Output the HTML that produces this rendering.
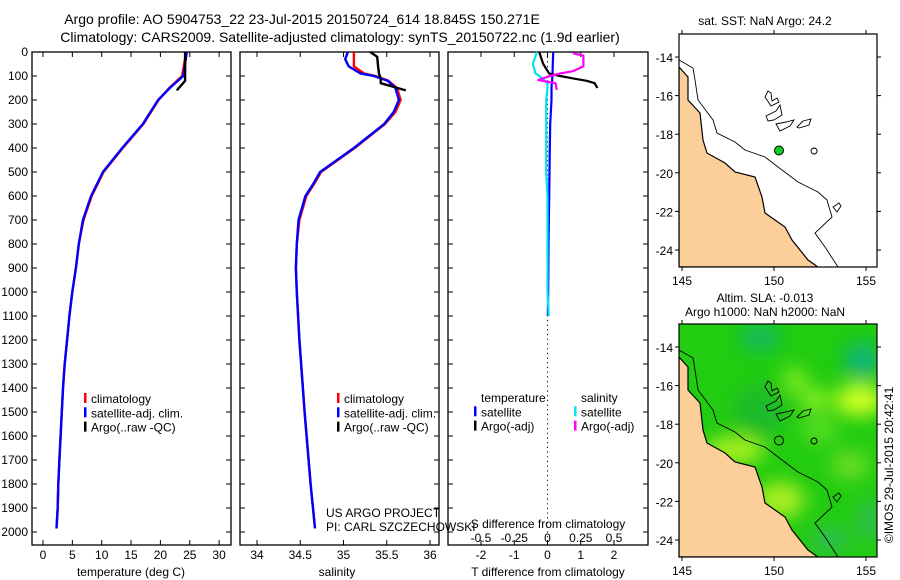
<!DOCTYPE html>
<html><head><meta charset="utf-8">
<style>
html,body{margin:0;padding:0;background:#fff;}
svg{display:block;font-family:"Liberation Sans",sans-serif;}
text{font-size:12px;fill:#000;}
</style></head>
<body>
<svg id="chart" width="900" height="580" viewBox="0 0 900 580" xmlns="http://www.w3.org/2000/svg">
<defs>
<clipPath id="mapclip1"><rect x="679" y="34" width="198" height="233"/></clipPath>
<clipPath id="mapclip2"><rect x="679" y="324" width="198" height="233"/></clipPath>
<filter id="blur" x="-50%" y="-50%" width="200%" height="200%"><feGaussianBlur stdDeviation="9"/></filter>
</defs>
<text x="302" y="24" text-anchor="middle" style="font-size:14px">Argo profile: AO 5904753_22 23-Jul-2015 20150724_614 18.845S 150.271E</text>
<text x="340" y="42" text-anchor="middle" style="font-size:14px">Climatology: CARS2009. Satellite-adjusted climatology: synTS_20150722.nc (1.9d earlier)</text>
<g id="plots"></g>
<g id="maps"></g>
<text transform="translate(893,465) rotate(-90)" text-anchor="middle">©IMOS 29-Jul-2015 20:42:41</text>
</svg>
<script>
// ---- data ----
const depthT = [0,100,150,200,300,400,500,600,700,800,900,1000,1100,1200,1300,1400,1500,1600,1700,1800,1900,1985];
const tempSat = [24.5,23.9,21.6,19.6,17.0,13.5,10.2,8.2,6.8,6.1,5.6,5.0,4.5,4.1,3.7,3.4,3.2,3.0,2.8,2.6,2.5,2.3];
const tempClim = [24.4,23.7,21.5,19.7,17.1,13.6,10.3,8.3,6.9,6.1,5.6,5.0,4.5,4.1,3.7,3.4,3.2,3.0,2.8,2.6,2.5,2.3];
const depthArgo = [0,100,120,160];
const tempArgo = [24.2,24.2,24.2,22.8];
const depthS = [0,30,60,90,100,120,150,200,250,300,400,500,550,600,700,800,900,1000,1200,1500,1800,1985];
const salSat = [35.05,35.02,35.06,35.2,35.35,35.51,35.6,35.64,35.58,35.47,35.12,34.73,34.65,34.56,34.48,34.46,34.45,34.46,34.49,34.55,34.62,34.67];
const salClim = [35.12,35.12,35.12,35.24,35.37,35.52,35.62,35.66,35.6,35.48,35.13,34.74,34.66,34.57,34.49,34.46,34.45,34.46,34.49,34.55,34.62,34.67];
const salArgo = [35.31,35.39,35.4,35.41,35.43,35.43,35.72];
const depthSArgo = [0,20,60,90,110,130,160];
const depthDiff = [0,50,90,100,110,120,130,150,200,300,400,500,600,800,1000,1100];
const tDiffSat = [0.17,0.16,0.15,0.15,0.14,0.14,0.13,0.12,0.12,0.08,0.07,0.06,0.05,0.03,0.02,0.01];
const sDiffSat = [-0.08,-0.11,-0.09,-0.06,-0.04,-0.02,0,0,-0.01,-0.01,-0.01,-0.01,0,0,0,0.01];
const depthArgoDiff = [0,50,90,100,110,120,130,150];
const tDiffArgo = [-0.25,-0.13,0.05,0.38,0.77,1.18,1.42,1.5];
const depthSArgoDiff = [5,15,33,60,80,90,100,117,130,158];
const sDiffArgo = [0.19,0.27,0.27,0.27,0.19,0.09,0.02,-0.07,0.06,0.07];
const depthTicks = [0,100,200,300,400,500,600,700,800,900,1000,1100,1200,1300,1400,1500,1600,1700,1800,1900,2000];
const tTicks = [0,5,10,15,20,25,30];
const sTicks = [34,34.5,35,35.5,36];
const sTickLabels = ["34","34.5","35","35.5","36"];
const dTTicks = [-2,-1,0,1,2];
const dSTicks = [-0.5,-0.25,0,0.25,0.5];
const dSTickLabels = ["-0.5","-0.25","0","0.25","0.5"];
const latTicks = [-14,-16,-18,-20,-22,-24];
const lonTicks = [145,150,155];
const argoLon = 150.271, argoLat = -18.845;

// ---- helpers ----
const NS="http://www.w3.org/2000/svg";
const plots=document.getElementById('plots');
const maps=document.getElementById('maps');
function mk(tag,attrs,parent){const e=document.createElementNS(NS,tag);for(const k in attrs)e.setAttribute(k,attrs[k]);(parent||plots).appendChild(e);return e;}
function txt(x,y,s,anchor,parent,size){const e=mk('text',{x:x,y:y,'text-anchor':anchor||'start'},parent);if(size)e.style.fontSize=size+'px';e.textContent=s;return e;}
const yD = d => 52 + d*0.24;
const yTop=52, yBot=545;
function xLin(v0,p0,scale){return v=>p0+(v-v0)*scale;}
const xT = xLin(0,43,5.87);
const xS = xLin(34,257,86.5);
const xDT = xLin(0,547.5,33.25);
const xDS = xLin(0,547.5,133);

function frame(x0,x1,name){
  const r=mk('rect',{x:x0,y:yTop,width:x1-x0,height:yBot-yTop,fill:'none',stroke:'#000','stroke-width':1.3});
  
  
  depthTicks.forEach(d=>{
    const y=yD(d);
    const t1=mk('line',{x1:x0,x2:x0+5,y1:y,y2:y,stroke:'#000'});
    
    
    const t2=mk('line',{x1:x1,x2:x1-5,y1:y,y2:y,stroke:'#000'});
    
    
  });
}
function xticks(ticks,labels,sc,name,ylab){
  ticks.forEach((v,i)=>{
    const x=sc(v);
    const a=mk('line',{x1:x,x2:x,y1:yTop,y2:yTop+5,stroke:'#000'});
    
    
    const b=mk('line',{x1:x,x2:x,y1:yBot,y2:yBot-5,stroke:'#000'});
    
    
    const t=txt(x,ylab||559,labels[i],'middle');
    
    
  });
}
function line(xs,ds,sx,color,name,w){
  const p=xs.map((v,i)=>sx(v).toFixed(1)+','+yD(ds[i]).toFixed(1)).join(' ');
  const e=mk('polyline',{points:p,fill:'none',stroke:color,'stroke-width':w||2.4,'stroke-linejoin':'round'});
  
  
}
function legend(x,y,items,name){
  items.forEach((it,i)=>{
    const yy=y+i*14.3;
    if(it.c){const b=mk('rect',{x:x,y:yy-10,width:2.5,height:10,fill:it.c});
      
      }
    const t=txt(x+7,yy,it.t);
    
    
  });
}

// y tick labels (left)
depthTicks.forEach(d=>{const t=txt(28,yD(d)+4,String(d),'end');
  
  });

// panel 1: temperature
frame(32,231,'temperature-panel');
xticks(tTicks,tTicks.map(String),xT,'temperature-tick-label');
line(tempClim,depthT,xT,'#ff0000','temperature-climatology-line');
line(tempSat,depthT,xT,'#0000ff','temperature-satellite-line');
line(tempArgo,depthArgo,xT,'#000000','temperature-argo-line');
{const t=txt(131,576,'temperature (deg C)','middle');}
legend(84,403,[{c:'#ff0000',t:'climatology'},{c:'#0000ff',t:'satellite-adj. clim.'},{c:'#000',t:'Argo(..raw -QC)'}],'temperature-legend-entry');

// panel 2: salinity
frame(240,439,'salinity-panel');
xticks(sTicks,sTickLabels,xS,'salinity-tick-label');
line(salClim,depthS,xS,'#ff0000','salinity-climatology-line');
line(salSat,depthS,xS,'#0000ff','salinity-satellite-line');
line(salArgo,depthSArgo,xS,'#000000','salinity-argo-line');
{const t=txt(337,576,'salinity','middle');}
legend(337,403,[{c:'#ff0000',t:'climatology'},{c:'#0000ff',t:'satellite-adj. clim.'},{c:'#000',t:'Argo(..raw -QC)'}],'salinity-legend-entry');
{const t=txt(326,517,'US ARGO PROJECT');}
{const t=txt(326,531,'PI: CARL SZCZECHOWSKI');}

// panel 3: differences
frame(448,648,'difference-panel');
{const z=mk('line',{x1:xDT(0),x2:xDT(0),y1:yTop,y2:yBot,stroke:'#000','stroke-dasharray':'1.2,3.5'});}
xticks(dTTicks,dTTicks.map(String),xDT,'t-diff-tick-label');
dSTicks.forEach((v,i)=>{const t=txt(xDS(v),542,dSTickLabels[i],'middle');});
{const t=txt(548,528,'S difference from climatology','middle');}
{const t=txt(548,576,'T difference from climatology','middle');}
line(tDiffSat,depthDiff,xDT,'#0000ff','t-diff-satellite-line',2.2);
line(sDiffSat,depthDiff,xDS,'#00e5ee','s-diff-satellite-line',2.2);
line(tDiffArgo,depthArgoDiff,xDT,'#000000','t-diff-argo-line',2.2);
line(sDiffArgo,depthSArgoDiff,xDS,'#ff00ff','s-diff-argo-line',2.2);
legend(474,402,[{t:'temperature'},{c:'#0000ff',t:'satellite'},{c:'#000',t:'Argo(-adj)'}],'t-diff-legend-entry');
legend(574,402,[{t:'salinity'},{c:'#00e5ee',t:'satellite'},{c:'#ff00ff',t:'Argo(-adj)'}],'s-diff-legend-entry');

// ---- maps ----
const lonX = lon => 682 + (lon-145)*18.4;
const latY = (lat,oy) => oy + 57 + (-14-lat)*19.3;
const coast=[[679,67],[688,77],[688,100],[700,113],[703,140],[707,153],[725,163],[735,172],[755,177],[762,197],[765,213],[785,227],[792,240],[808,260],[818,267]];
const shelf=[[679,60],[693,68],[695,80],[698,100],[713,120],[717,133],[735,142],[745,150],[765,157],[782,170],[798,182],[818,192],[827,200],[832,217],[815,233],[825,247],[838,267]];
const reefs=["M765,97 l3,-6 l3,2 l1,8 l5,-3 l2,4 l-8,4 z","M766,116 l10,-5 l4,-6 l2,10 l-8,5 l-6,1 z","M776,124 l10,-2 l8,-2 l-4,6 l-10,5 z","M797,127 l6,-6 l8,-2 l-2,6 l-10,3 z","M814,154 a3,3 0 1,1 0.1,0 z","M833,207 l6,-4 l2,3 l-4,6 z"];
function drawMap(oy,idx,name){
  const g=mk('g',{},maps);
  
  
  const cg=mk('g',{'clip-path':'url(#mapclip'+idx+')'},g);
  const dy=oy-34;
  if(idx===2){
    mk('rect',{x:679,y:oy,width:198,height:233,fill:'#22cc11'},cg);
    const fb=mk('g',{filter:'url(#blur)'},cg);
    [[760,48,20,12,'#11b866'],[862,70,18,18,'#11b477'],[860,110,25,16,'#ccff22'],[815,110,15,12,'#88ee22'],[795,90,12,12,'#88ee22'],[735,160,30,14,'#aaf022'],[780,210,25,18,'#aaee22'],[850,175,20,15,'#66dd22'],[760,120,25,25,'#1fba2a'],[830,250,20,12,'#33bb55'],[870,230,12,20,'#33bb55'],[820,140,18,14,'#55dd22']].forEach(b=>{
      mk('ellipse',{cx:b[0],cy:b[1]+dy,rx:b[2],ry:b[3],fill:b[4]},fb);});
  }
  const pts=coast.map(p=>p[0]+','+(p[1]+dy)).join(' ')+' 679,'+(267+dy);
  const land=mk('polygon',{points:pts,fill:'#fccf9a',stroke:'#000','stroke-width':1.2},cg);
  
  
  const sh=mk('polyline',{points:shelf.map(p=>p[0]+','+(p[1]+dy)).join(' '),fill:'none',stroke:'#000','stroke-width':0.9},cg);
  
  
  reefs.forEach(d=>{const r=mk('path',{d:d,fill:'none',stroke:'#000','stroke-width':0.9,transform:'translate(0,'+dy+')'},cg);
    
    });
  const dot=mk('circle',{cx:lonX(argoLon),cy:latY(argoLat,dy),r:4.5,fill:idx===1?'#11cc22':'none',stroke:'#000','stroke-width':1},g);
  
  
  const fr=mk('rect',{x:679,y:oy,width:198,height:233,fill:'none',stroke:'#000','stroke-width':1.2},g);
  
  
  latTicks.forEach(l=>{const y=latY(l,dy);
    const a=mk('line',{x1:679,x2:675,y1:y,y2:y,stroke:'#000'},g);
    
    
    const b=mk('line',{x1:877,x2:881,y1:y,y2:y,stroke:'#000'},g);
    
    
    const t=txt(673,y+5,String(l),'end',g);
    
    });
  lonTicks.forEach(l=>{const x=lonX(l);
    const a=mk('line',{x1:x,x2:x,y1:oy,y2:oy-4,stroke:'#000'},g);
    
    
    const b=mk('line',{x1:x,x2:x,y1:oy+233,y2:oy+237,stroke:'#000'},g);
    
    
    const t=txt(x,oy+251,String(l),'middle',g);
    
    });
}
drawMap(34,1,'sst-map');
drawMap(324,2,'sla-map');
{const t=txt(765,25,'sat. SST: NaN Argo: 24.2','middle',maps);}
{const t=txt(765,302,'Altim. SLA: -0.013','middle',maps);}
{const t=txt(765,316,'Argo h1000: NaN h2000: NaN','middle',maps);}
</script>
</body></html>
